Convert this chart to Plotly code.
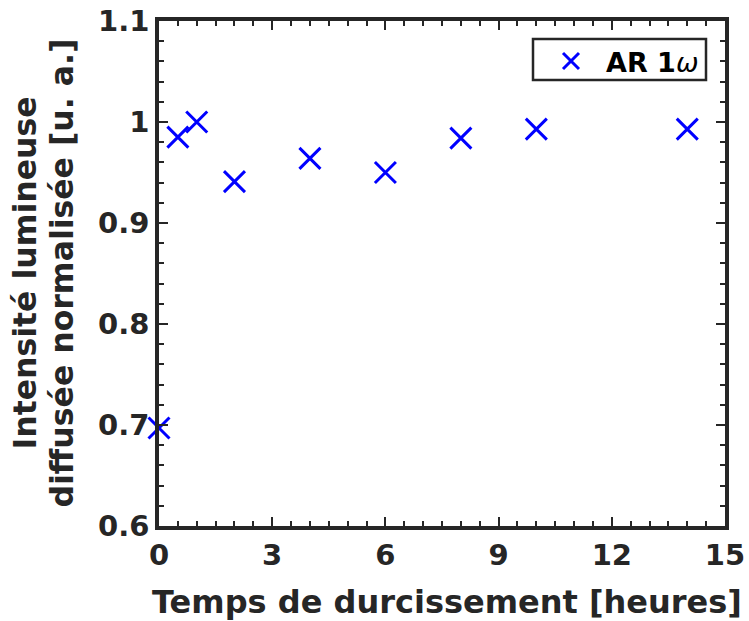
import plotly.graph_objects as go

# Data
time_hours = [0, 0.5, 1, 2, 4, 6, 8, 10, 14]
intensity = [0.697, 0.985, 1.0, 0.941, 0.964, 0.950, 0.984, 0.993, 0.993]
x_ticks = [0, 3, 6, 9, 12, 15]
y_ticks = [0.6, 0.7, 0.8, 0.9, 1.0, 1.1]
y_tick_labels = ["0.6", "0.7", "0.8", "0.9", "1", "1.1"]
y_label_lines = ["Intensité lumineuse", "diffusée normalisée [u. a.]"]
x_label = "Temps de durcissement [heures]"

AX = "#262626"
FONT = "DejaVu Sans"
W, H = 749, 621
L, R, T, B = 159, 24, 21, 95
PW = W - L - R
PH = H - T - B


def px_to_paper_x(px):
    return (px - L) / PW


def px_to_paper_y(py):
    return (H - B - py) / PH


fig = go.Figure()
fig.add_trace(go.Scatter(
    x=time_hours, y=intensity, mode="markers",
    name='AR 1<span style="font-weight:normal"><i>ω</i></span>',
    marker=dict(symbol="x-thin", size=21, color="blue",
                line=dict(color="blue", width=3)),
    cliponaxis=False,
))

# legend frame
fig.add_shape(
    type="rect", xref="paper", yref="paper",
    x0=px_to_paper_x(533), x1=px_to_paper_x(706),
    y0=px_to_paper_y(80), y1=px_to_paper_y(39),
    line=dict(color=AX, width=2.5), fillcolor="white", layer="below",
)

fig.update_layout(
    width=W, height=H,
    margin=dict(l=L, r=R, t=T, b=B),
    paper_bgcolor="white", plot_bgcolor="white",
    font=dict(family=FONT, size=29, color=AX, weight="bold"),
    showlegend=True,
    legend=dict(x=px_to_paper_x(704), y=px_to_paper_y(37), xanchor="right", yanchor="top",
                borderwidth=0, bgcolor="rgba(0,0,0,0)",
                font=dict(family=FONT, size=27, color="black", weight="bold"),
                itemwidth=60),
)

fig.update_xaxes(
    range=[0, 15], tickvals=x_ticks, showgrid=False, zeroline=False,
    automargin=False,
    showline=True, linecolor=AX, linewidth=3.5, mirror="allticks",
    ticks="inside", ticklen=9, tickwidth=2, tickcolor=AX,
    tickfont=dict(family=FONT, size=29, color=AX, weight="bold"),
    minor=dict(ticks="inside", dtick=0.5, ticklen=5, tickwidth=2, tickcolor=AX, showgrid=False),
)
fig.update_yaxes(
    range=[0.6, 1.1], tickvals=y_ticks, ticktext=y_tick_labels,
    showgrid=False, zeroline=False, automargin=False,
    showline=True, linecolor=AX, linewidth=3.5, mirror="allticks",
    ticks="inside", ticklen=9, tickwidth=2, tickcolor=AX,
    tickfont=dict(family=FONT, size=29, color=AX, weight="bold"),
    minor=dict(ticks="inside", dtick=0.02, ticklen=5, tickwidth=2, tickcolor=AX, showgrid=False),
)

# x-axis label
fig.add_annotation(
    text=x_label, showarrow=False,
    xref="paper", yref="paper", x=px_to_paper_x(447), y=px_to_paper_y(602),
    xanchor="center", yanchor="middle",
    font=dict(family=FONT, size=32, color=AX, weight="bold"),
)

# y-axis label (two lines)
for txt, cx in zip(y_label_lines, [24, 61]):
    fig.add_annotation(
        text=txt, textangle=-90, showarrow=False,
        xref="paper", yref="paper", x=px_to_paper_x(cx), y=0.5,
        xanchor="center", yanchor="middle",
        font=dict(family=FONT, size=31.5, color=AX, weight="bold"),
    )

fig.write_html(
    "out.html",
    config={"displayModeBar": False},
    post_script="document.body.style.margin='0';document.body.style.overflow='hidden';",
)
